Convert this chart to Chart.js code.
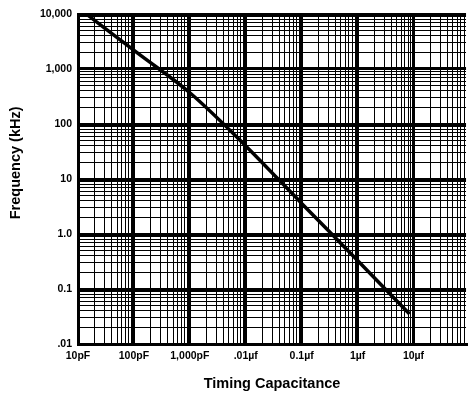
<!DOCTYPE html>
<html>
<head>
<meta charset="utf-8">
<script src="https://cdn.jsdelivr.net/npm/chart.js@4"></script>
<style>
  html, body { margin: 0; padding: 0; background: #fff; }
  #wrap { width: 470px; height: 393px; position: relative; }
</style>
</head>
<body>
<div id="wrap"><canvas id="chart"></canvas></div>
<script>
// timing capacitance (pF) vs frequency (kHz)
const capacitancePF = [15, 120, 1000, 10000, 100000, 1000000, 8500000];
const frequencyKHz = [9500, 1900, 370, 40, 3.6, 0.33, 0.035];

// decade tick labels
const xTickValues = [10, 100, 1000, 10000, 100000, 1000000, 10000000];
const xTickLabels = ['10pF', '100pF', '1,000pF', '.01\u00b5f', '0.1\u00b5f', '1\u00b5f', '10\u00b5f'];
const yTickValues = [0.01, 0.1, 1, 10, 100, 1000, 10000];
const yTickLabels = ['.01', '0.1', '1.0', '10', '100', '1,000', '10,000'];

const X_MIN = 10, X_MAX = 8.7e7;
const Y_MIN = 0.01, Y_MAX = 10000;

// log paper grid: 1..9 in every decade
function logGrid(min, max) {
	var out = [];
	var e0 = Math.floor(Math.log10(min));
	var e1 = Math.ceil(Math.log10(max));
	for (var e = e0; e <= e1; e++) {
		for (var m = 1; m <= 9; m++) {
			var v = Number((m * Math.pow(10, e)).toPrecision(3));
			if (v >= min * 0.999 && v <= max * 1.001) out.push(v);
		}
	}
	return out;
}

function isDecade(v) {
	var l = Math.log10(v);
	return Math.abs(l - Math.round(l)) < 1e-6;
}

function labelFor(v, values, labels) {
	for (var i = 0; i < values.length; i++) {
		if (Math.abs(Math.log10(v) - Math.log10(values[i])) < 1e-6) return labels[i];
	}
	return '';
}

const points = capacitancePF.map((c, i) => ({ x: c, y: frequencyKHz[i] }));

const tickFont = { family: 'Liberation Sans', size: 10.5, weight: 'bold' };
const titleFont = { family: 'Liberation Sans', size: 14.5, weight: 'bold' };

const gridWidth = (ctx) => (ctx.tick && isDecade(ctx.tick.value)) ? 3 : 1;

new Chart(document.getElementById('chart'), {
	type: 'scatter',
	data: {
		datasets: [{
			data: points,
			showLine: true,
			borderColor: '#000',
			borderWidth: 3.5,
			pointRadius: 0,
			pointHoverRadius: 0,
			cubicInterpolationMode: 'monotone'
		}]
	},
	options: {
		responsive: true,
		maintainAspectRatio: false,
		animation: false,
		layout: { padding: { top: 14, right: 0, bottom: 0, left: 0 } },
		plugins: {
			legend: { display: false },
			tooltip: { enabled: false }
		},
		scales: {
			x: {
				type: 'logarithmic',
				min: X_MIN,
				max: X_MAX,
				afterBuildTicks: (s) => { s.ticks = logGrid(X_MIN, X_MAX).map(v => ({ value: v })); },
				afterFit: (s) => { s.height = 49; },
				grid: { color: '#000', lineWidth: gridWidth, drawTicks: false },
				border: { color: '#000', width: 3 },
				ticks: {
					autoSkip: false,
					maxRotation: 0,
					padding: 6,
					color: '#000',
					font: tickFont,
					callback: (v) => labelFor(v, xTickValues, xTickLabels)
				},
				title: {
					display: true,
					text: 'Timing Capacitance',
					color: '#000',
					font: titleFont,
					padding: { top: 0, bottom: 0 }
				}
			},
			y: {
				type: 'logarithmic',
				min: Y_MIN,
				max: Y_MAX,
				afterBuildTicks: (s) => { s.ticks = logGrid(Y_MIN, Y_MAX).map(v => ({ value: v })); },
				afterFit: (s) => { s.width = 78; },
				grid: { color: '#000', lineWidth: gridWidth, drawTicks: false },
				border: { color: '#000', width: 3 },
				ticks: {
					autoSkip: false,
					padding: 6,
					color: '#000',
					font: tickFont,
					callback: (v) => labelFor(v, yTickValues, yTickLabels)
				},
				title: {
					display: true,
					// leading spaces lift the rotated title a little, as in the original
					text: '        Frequency (kHz)',
					color: '#000',
					font: titleFont,
					padding: { top: 7, bottom: 0 }
				}
			}
		}
	}
});
</script>
</body>
</html>
